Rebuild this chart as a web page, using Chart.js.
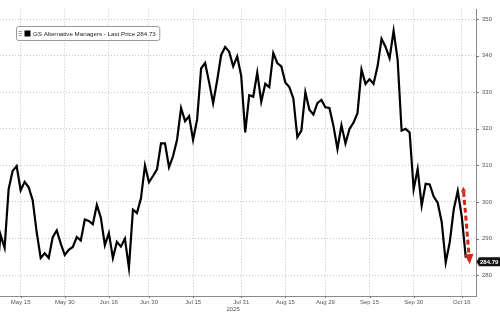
<!DOCTYPE html>
<html><head><meta charset="utf-8">
<script src="https://cdn.jsdelivr.net/npm/chart.js@4.4.1/dist/chart.umd.min.js"></script>
<style>html,body{margin:0;padding:0;background:#fff;}#wrap{width:500px;height:312px;}</style>
</head><body><div id="wrap"><canvas id="c" width="500" height="312"></canvas></div>
<script>
// trading-day categories (weekdays), first one sits just off the left edge
const dates = [
 '2025-05-07','2025-05-08','2025-05-09','2025-05-12','2025-05-13','2025-05-14','2025-05-15','2025-05-16','2025-05-19','2025-05-20',
 '2025-05-21','2025-05-22','2025-05-23','2025-05-26','2025-05-27','2025-05-28','2025-05-29','2025-05-30','2025-06-02','2025-06-03',
 '2025-06-04','2025-06-05','2025-06-06','2025-06-09','2025-06-10','2025-06-11','2025-06-12','2025-06-13','2025-06-16','2025-06-17',
 '2025-06-18','2025-06-19','2025-06-20','2025-06-23','2025-06-24','2025-06-25','2025-06-26','2025-06-27','2025-06-30','2025-07-01',
 '2025-07-02','2025-07-03','2025-07-04','2025-07-07','2025-07-08','2025-07-09','2025-07-10','2025-07-11','2025-07-14','2025-07-15',
 '2025-07-16','2025-07-17','2025-07-18','2025-07-21','2025-07-22','2025-07-23','2025-07-24','2025-07-25','2025-07-28','2025-07-29',
 '2025-07-30','2025-07-31','2025-08-01','2025-08-04','2025-08-05','2025-08-06','2025-08-07','2025-08-08','2025-08-11','2025-08-12',
 '2025-08-13','2025-08-14','2025-08-15','2025-08-18','2025-08-19','2025-08-20','2025-08-21','2025-08-22','2025-08-25','2025-08-26',
 '2025-08-27','2025-08-28','2025-08-29','2025-09-01','2025-09-02','2025-09-03','2025-09-04','2025-09-05','2025-09-08','2025-09-09',
 '2025-09-10','2025-09-11','2025-09-12','2025-09-15','2025-09-16','2025-09-17','2025-09-18','2025-09-19','2025-09-22','2025-09-23',
 '2025-09-24','2025-09-25','2025-09-26','2025-09-29','2025-09-30','2025-10-01','2025-10-02','2025-10-03','2025-10-06','2025-10-07',
 '2025-10-08','2025-10-09','2025-10-10','2025-10-13','2025-10-14','2025-10-15','2025-10-16','2025-10-17'
];
const prices = [
 279.5,
 291, 287.5, 303.5, 308.5, 309.8, 303.2, 305.5, 304, 300.5, 291.7,
 284.7, 286, 284.7, 290.4, 292.2, 288.6, 285.5, 286.9, 287.7, 290.4,
 289.5, 295.2, 294.8, 293.9, 299.2, 295.7, 288.2, 291.5, 284.7, 289.1,
 287.8, 290, 282, 297.9, 297, 301, 310, 305.4, 307.1, 308.9,
 316, 316, 309.5, 312.5, 317, 325.7, 322.1, 323.5, 317, 322.5,
 336.5, 338, 332.7, 327, 333.2, 340.2, 342.4, 341.1, 337.1, 339.8,
 334.5, 319, 329.2, 328.8, 335.4, 327.4, 332.3, 331.4, 340.7, 338,
 337.1, 332.7, 331.4, 328.3, 317.7, 319.5, 330, 325.2, 323.9, 327,
 327.9, 325.9, 325.7, 320.8, 314.5, 321, 316, 320, 321.7, 324.3,
 336.2, 332.3, 333.6, 332.3, 337.1, 344.6, 342.4, 339.3, 346.8, 339,
 319.5, 320, 319, 303.5, 309, 299, 305, 304.8, 301.5, 299.8,
 294.5, 283.5, 289, 298, 303, 296, 284.79
];
const tickDates = ['2025-05-15','2025-05-30','2025-06-16','2025-06-30','2025-07-15','2025-07-31','2025-08-15','2025-08-29','2025-09-15','2025-09-30','2025-10-16'];
const tickLabels = ['May 15','May 30','Jun 16','Jun 30','Jul 15','Jul 31','Aug 15','Aug 29','Sep 15','Sep 30','Oct 16'];
const yTicks = [280, 290, 300, 310, 320, 330, 340, 350];
const yearLabel = '2025';
const seriesName = 'GS Alternative Managers - Last Price 284.73';
const lastPriceText = '284.79';
const arrowX = [116.4, 118.0];   // in category-index units
const arrowY = [303.6, 283.0];   // in price units

const FONT = "'Liberation Sans', Arial, sans-serif";
const points = prices.map((v, i) => ({x: i, y: v}));

const extras = {
  id: 'extras',
  afterDraw(chart) {
    const {ctx, chartArea: ca, scales: {x, y}} = chart;
    ctx.save();
    ctx.strokeStyle = '#777'; ctx.lineWidth = 1;
    y.ticks.forEach(t => {
      const py = Math.round(y.getPixelForValue(t.value)) + 0.5;
      ctx.beginPath(); ctx.moveTo(ca.right, py); ctx.lineTo(ca.right + 3, py); ctx.stroke();
    });
    x.ticks.forEach(t => {
      const px = Math.round(x.getPixelForValue(t.value)) + 0.5;
      ctx.beginPath(); ctx.moveTo(px, ca.bottom); ctx.lineTo(px, ca.bottom + 2); ctx.stroke();
    });
    const cx = (x.getPixelForValue(1) + x.getPixelForValue(dates.length - 1)) / 2;
    ctx.fillStyle = '#555'; ctx.font = '6px ' + FONT; ctx.textAlign = 'center'; ctx.textBaseline = 'middle';
    ctx.fillText(yearLabel, cx, ca.bottom + 13.5);

    // legend box
    ctx.font = '6.2px ' + FONT;
    const tw = ctx.measureText(chart.data.datasets[0].label).width;
    const bx = 16.5, by = 26.5, bh = 14, tx = 33;
    const bw = tx - bx + tw + 4;
    ctx.beginPath();
    ctx.roundRect(bx, by, bw, bh, 2);
    ctx.fillStyle = '#fff'; ctx.fill();
    ctx.strokeStyle = '#9a9a9a'; ctx.lineWidth = 1; ctx.stroke();
    ctx.strokeStyle = '#aaa';
    [31.5, 33.5, 35.5].forEach(ly => { ctx.beginPath(); ctx.moveTo(18.5, ly); ctx.lineTo(22, ly); ctx.stroke(); });
    ctx.fillStyle = '#000'; ctx.fillRect(24.5, 30.5, 6, 6);
    ctx.fillStyle = '#222'; ctx.textAlign = 'left'; ctx.textBaseline = 'middle';
    ctx.fillText(chart.data.datasets[0].label, tx, by + bh / 2 + 0.5);

    // last price tag
    const ly = y.getPixelForValue(prices[prices.length - 1]) + 4;
    ctx.fillStyle = '#111';
    ctx.beginPath();
    ctx.moveTo(ca.right + 0.5, ly);
    ctx.lineTo(ca.right + 3, ly - 4.5);
    ctx.lineTo(500, ly - 4.5);
    ctx.lineTo(500, ly + 4.5);
    ctx.lineTo(ca.right + 3, ly + 4.5);
    ctx.closePath(); ctx.fill();
    ctx.fillStyle = '#fff'; ctx.font = 'bold 6px ' + FONT; ctx.textAlign = 'left'; ctx.textBaseline = 'middle';
    ctx.fillText(lastPriceText, ca.right + 4, ly + 0.5);

    // red dashed arrow
    const x0 = x.getPixelForValue(arrowX[0]), y0 = y.getPixelForValue(arrowY[0]);
    const x1 = x.getPixelForValue(arrowX[1]), y1 = y.getPixelForValue(arrowY[1]);
    const ang = Math.atan2(y1 - y0, x1 - x0);
    const headL = 10, headW = 4.5;
    const hx = x1 - headL * Math.cos(ang), hy = y1 - headL * Math.sin(ang);
    ctx.strokeStyle = '#d2261c'; ctx.fillStyle = '#d2261c'; ctx.lineWidth = 3;
    ctx.setLineDash([5, 3]); ctx.lineCap = 'butt';
    ctx.beginPath(); ctx.moveTo(x0 + 3 * Math.cos(ang), y0 + 3 * Math.sin(ang)); ctx.lineTo(hx, hy); ctx.stroke();
    ctx.setLineDash([]);
    const px = -Math.sin(ang), py = Math.cos(ang);
    ctx.beginPath();
    ctx.moveTo(x1, y1);
    ctx.lineTo(hx + px * headW, hy + py * headW);
    ctx.lineTo(hx - px * headW, hy - py * headW);
    ctx.closePath(); ctx.fill();
    ctx.beginPath();
    ctx.moveTo(x0 - 2 * Math.cos(ang), y0 - 2 * Math.sin(ang));
    ctx.lineTo(x0 + 3 * Math.cos(ang) + px * 2.6, y0 + 3 * Math.sin(ang) + py * 2.6);
    ctx.lineTo(x0 + 3 * Math.cos(ang) - px * 2.6, y0 + 3 * Math.sin(ang) - py * 2.6);
    ctx.closePath(); ctx.fill();
    ctx.restore();
  }
};

new Chart(document.getElementById('c'), {
  type: 'line',
  data: {
    datasets: [{
      label: seriesName,
      data: points,
      borderColor: '#000',
      borderWidth: 2.2,
      pointRadius: 0,
      tension: 0,
      fill: false
    }]
  },
  options: {
    responsive: false,
    animation: false,
    devicePixelRatio: 1,
    layout: {padding: 0},
    plugins: {legend: {display: false}, tooltip: {enabled: false}},
    scales: {
      x: {
        type: 'linear',
        min: 0.85,
        max: 119.55,
        afterBuildTicks: s => { s.ticks = tickDates.map(d => ({value: dates.indexOf(d)})); },
        afterFit: s => { s.height = 16; },
        ticks: {
          autoSkip: false, maxRotation: 0, padding: 3,
          color: '#555', font: {family: FONT, size: 6},
          callback: (v, i) => tickLabels[i]
        },
        grid: {color: '#c4c4c4', lineWidth: 1, drawTicks: false},
        border: {display: true, color: '#8a8a8a', width: 1, dash: [1, 2]}
      },
      y: {
        position: 'right',
        min: 274.3,
        max: 352.6,
        afterBuildTicks: s => { s.ticks = yTicks.map(v => ({value: v})); },
        afterFit: s => { s.width = 24; },
        ticks: {
          padding: 6, color: '#555', font: {family: FONT, size: 6},
          callback: v => String(v)
        },
        grid: {color: '#c4c4c4', lineWidth: 1, drawTicks: false},
        border: {display: true, color: '#8a8a8a', width: 1, dash: [1, 2]}
      }
    }
  },
  plugins: [extras]
});
</script></body></html>
